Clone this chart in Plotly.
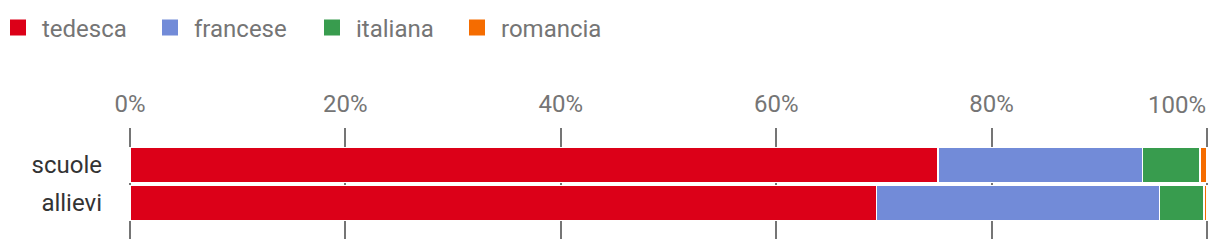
import plotly.graph_objects as go

categories = ["scuole", "allievi"]
series_names = ["tedesca", "francese", "italiana", "romancia"]
tedesca = [75.0, 69.3]
francese = [19.0, 26.3]
italiana = [5.35, 4.1]
romancia = [0.65, 0.3]
tick_vals = [0, 20, 40, 60, 80, 100]
tick_text = ["0%", "20%", "40%", "60%", "80%", "100%"]
colors = ["#dc0018", "#728bd8", "#389c4e", "#f56c00"]
legend_symbol_px = [18, 170, 332, 477]

W, H = 1220, 252
ML, MR, MT, MB = 126, 8, 128, 13
PW = W - ML - MR
PX_PER_UNIT = 10.77
x_range = [-(130 - ML) / PX_PER_UNIT, 100 + (W - MR - 1207) / PX_PER_UNIT]

fig = go.Figure()
for name, vals, col in zip(series_names, [tedesca, francese, italiana, romancia], colors):
    fig.add_trace(go.Bar(
        y=categories, x=vals, name=name, orientation="h",
        marker=dict(color=col, line=dict(color="white", width=1.5)),
        width=0.92, showlegend=False, legendgroup=name,
    ))

legend_keys = ["legend", "legend2", "legend3", "legend4"]
for name, col, key in zip(series_names, colors, legend_keys):
    fig.add_trace(go.Scatter(
        x=[None], y=[None], mode="markers", name=name, legendgroup=name,
        marker=dict(symbol="square", size=16, color=col, line=dict(width=0)),
        legend=key, showlegend=True,
    ))

layout_legends = {}
for key, px in zip(legend_keys, legend_symbol_px):
    layout_legends[key] = dict(
        orientation="h", xref="paper", yref="container",
        x=(px - 24 - ML) / PW, xanchor="left",
        y=1 - 28 / H, yanchor="middle", itemwidth=38,
        font=dict(family="Roboto", size=24, color="#757575"),
        bgcolor="rgba(0,0,0,0)",
    )

# the last tick label is right-aligned to its gridline (as in the reference)
axis_ticktext = tick_text[:-1] + [""]
last_label = dict(
    x=tick_vals[-1], xref="x", xanchor="right",
    y=1, yref="paper", yanchor="middle", yshift=23,
    text=tick_text[-1], showarrow=False, borderpad=0,
    font=dict(family="Roboto", size=24, color="#757575"),
)

fig.update_layout(
    barmode="stack",
    width=W, height=H,
    margin=dict(l=ML, r=MR, t=MT, b=MB, autoexpand=False),
    paper_bgcolor="white", plot_bgcolor="white",
    font=dict(family="Roboto", size=24, color="#757575"),
    showlegend=True,
    annotations=[last_label],
    xaxis=dict(side="top", range=x_range, tickvals=tick_vals, ticktext=axis_ticktext,
               showgrid=True, gridcolor="#757575", gridwidth=2, automargin=False,
               zeroline=False, showline=False, ticks="", ticklabelstandoff=10,
               tickfont=dict(size=24, color="#757575")),
    yaxis=dict(range=[1.947, -0.974], showgrid=False, zeroline=False, showline=False,
               automargin=False, ticks="", ticklabelstandoff=23,
               tickfont=dict(size=24, color="#333333")),
    **layout_legends,
)

fig.write_html("out.html")
